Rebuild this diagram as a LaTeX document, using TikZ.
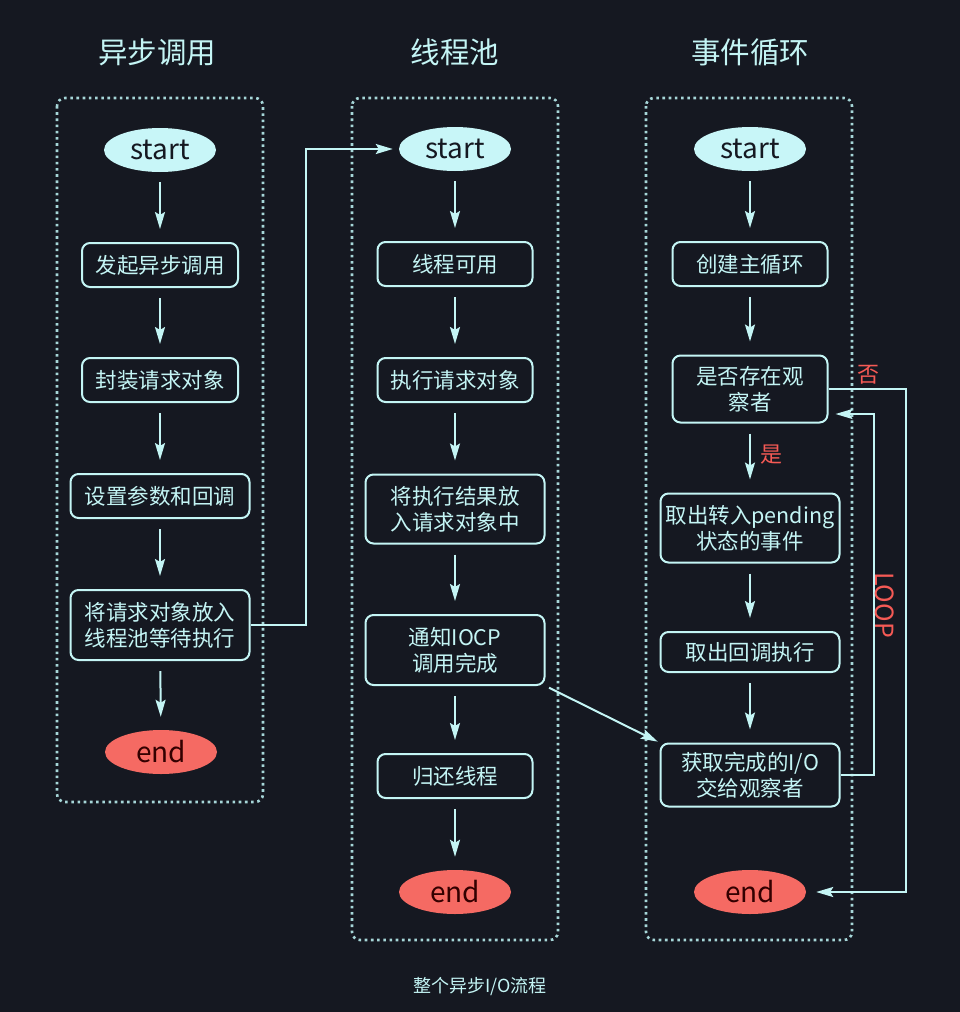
\documentclass[tikz,border=0pt]{standalone}
\usepackage{fontspec}
\setmainfont{Noto Sans CJK SC}
\usetikzlibrary{arrows.meta,shapes.geometric}
\definecolor{bg}{HTML}{151821}
\definecolor{ink}{HTML}{C4F5F5}
\definecolor{frame}{HTML}{A6D6D8}
\definecolor{startfill}{HTML}{C8F6F8}
\definecolor{endfill}{HTML}{F56A63}
\definecolor{redlabel}{HTML}{F55A55}
\tikzset{
  lane/.style={draw=frame, line width=2.6pt, dash pattern=on 2.6pt off 3.6pt, rounded corners=8pt},
  lanetitle/.style={text=ink, font=\fontsize{29.5}{32}\selectfont},
  stepbox/.style={draw=ink, line width=2pt, rounded corners=8pt, text=ink, inner sep=0pt,
    align=center, font=\fontsize{21.5}{26}\selectfont},
  startnode/.style={ellipse, fill=startfill, minimum width=112pt, minimum height=44pt, inner sep=0pt,
    text=bg, font=\fontsize{28}{30}\selectfont},
  endnode/.style={ellipse, fill=endfill, minimum width=112pt, minimum height=44pt, inner sep=0pt,
    text=black!80!red, font=\fontsize{28}{30}\selectfont},
  flow/.style={draw=ink, line width=2pt, -{Stealth[length=17pt,width=10pt,inset=3pt]}},
  vflow/.style={flow, shorten <=10pt, shorten >=13pt},
  tag/.style={text=redlabel, font=\fontsize{22}{24}\selectfont},
}
\begin{document}
\begin{tikzpicture}[x=1pt,y=-1pt]
\path[fill=bg] (0,0) rectangle (960,1012);
\useasboundingbox (0,0) rectangle (960,1012);

% lanes
\draw[lane] (57,98) rectangle (263,802);
\draw[lane] (352,98) rectangle (558,940);
\draw[lane] (646,98) rectangle (852,940);

\node[lanetitle] (t1) at (157,52) {异步调用};
\node[lanetitle] (t2) at (455,52) {线程池};
\node[lanetitle] (t3) at (750,52) {事件循环};

% lane 1: asynchronous call
\node[startnode] (s1) at (160,150) {start};
\node[stepbox, minimum width=156pt, minimum height=44pt] (b11) at (160,265) {发起异步调用};
\node[stepbox, minimum width=156pt, minimum height=44pt] (b12) at (160,380) {封装请求对象};
\node[stepbox, minimum width=179pt, minimum height=44pt] (b13) at (160,496) {设置参数和回调};
\node[stepbox, minimum width=179pt, minimum height=70pt] (b14) at (160,625) {将请求对象放入\\线程池等待执行};
\node[endnode] (e1) at (161,752) {end};

% lane 2: thread pool
\node[startnode] (s2) at (455,149) {start};
\node[stepbox, minimum width=155pt, minimum height=44pt] (b21) at (455,264) {线程可用};
\node[stepbox, minimum width=155pt, minimum height=44pt] (b22) at (455,380) {执行请求对象};
\node[stepbox, minimum width=179pt, minimum height=69pt] (b23) at (455,509) {将执行结果放\\入请求对象中};
\node[stepbox, minimum width=179pt, minimum height=70pt] (b24) at (455,650) {通知IOCP\\调用完成};
\node[stepbox, minimum width=155pt, minimum height=44pt] (b25) at (455,776) {归还线程};
\node[endnode] (e2) at (455,892) {end};

% lane 3: event loop
\node[startnode] (s3) at (750,149) {start};
\node[stepbox, minimum width=155pt, minimum height=44pt] (b31) at (750,264) {创建主循环};
\node[stepbox, minimum width=155pt, minimum height=67pt] (b32) at (750,389) {是否存在观\\察者};
\node[stepbox, minimum width=179pt, minimum height=69pt] (b33) at (750,528) {取出转入pending\\状态的事件};
\node[stepbox, minimum width=179pt, minimum height=40pt] (b34) at (750,652) {取出回调执行};
\node[stepbox, minimum width=179pt, minimum height=63pt] (b35) at (750,775) {获取完成的I/O\\交给观察者};
\node[endnode] (e3) at (750,892) {end};

% vertical flow in each lane
\draw[vflow] (s1) -- (b11);
\draw[vflow] (b11) -- (b12);
\draw[vflow] (b12) -- (b13);
\draw[vflow] (b13) -- (b14);
\draw[vflow] (b14) -- (e1);

\draw[vflow] (s2) -- (b21);
\draw[vflow] (b21) -- (b22);
\draw[vflow] (b22) -- (b23);
\draw[vflow] (b23) -- (b24);
\draw[vflow] (b24) -- (b25);
\draw[vflow] (b25) -- (e2);

\draw[vflow] (s3) -- (b31);
\draw[vflow] (b31) -- (b32);
\draw[vflow] (b32) -- (b33);
\draw[vflow] (b33) -- (b34);
\draw[vflow] (b34) -- (b35);

% cross-lane connectors
\draw[flow, shorten >=6pt] (b14.east) -- ++(55,0) |- (s2.west);
\draw[flow, shorten <=4pt, shorten >=2pt] (b24.south east) -- (b35.north west);

% decision: no observer -> end
\draw[flow, shorten >=10pt] (b32.east) -- ++(77,0) |- (e3.east);
\node[tag] (no) at (868,375) {否};
\node[tag] (yes) at (771,455) {是};

% loop back to the decision
\coordinate (loopin) at ([yshift=-25pt]b32.east);
\draw[flow, shorten >=7pt] (b35.east) -- ++(33,0) |- (loopin);
\node[tag, rotate=-90, font=\fontsize{25}{27}\selectfont] (loop) at (885,605) {LOOP};

\node[text=ink, font=\fontsize{18}{20}\selectfont] (cap) at (480,987) {整个异步I/O流程};
\end{tikzpicture}
\end{document}
